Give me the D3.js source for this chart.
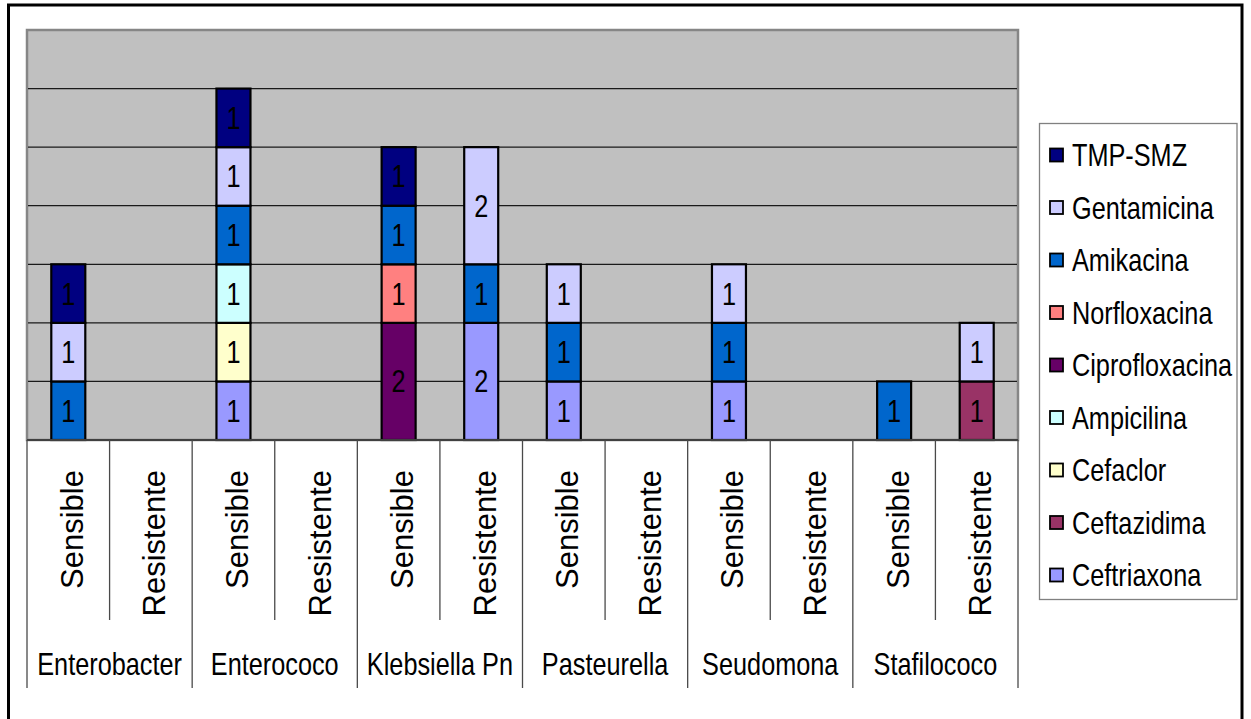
<!DOCTYPE html>
<html>
<head>
<meta charset="utf-8">
<script src="https://cdn.jsdelivr.net/npm/d3@7"></script>
<style>
  html, body { margin: 0; padding: 0; background: #ffffff; }
  svg { display: block; font-family: "Liberation Sans", Arial, sans-serif; }
</style>
</head>
<body>
<svg id="chart" width="1251" height="719"></svg>
<script>
// Bacteria groups and test outcome within each group
const groups = ["Enterobacter", "Enterococo", "Klebsiella Pn", "Pasteurella", "Seudomona", "Stafilococo"];
const outcomes = ["Sensible", "Resistente"];

// Antibiotics in stacking order (bottom to top)
const antibiotics = ["Ceftriaxona", "Ceftazidima", "Cefaclor", "Ampicilina", "Ciprofloxacina",
                     "Norfloxacina", "Amikacina", "Gentamicina", "TMP-SMZ"];
const colors = ["#9999FF", "#993366", "#FFFFCC", "#CCFFFF", "#660066",
                "#FF8080", "#0066CC", "#CCCCFF", "#000080"];

// Counts per slot: Enterobacter S/R, Enterococo S/R, Klebsiella S/R, Pasteurella S/R, Seudomona S/R, Stafilococo S/R
const ceftriaxona    = [0, 0, 1, 0, 0, 2, 1, 0, 1, 0, 0, 0];
const ceftazidima    = [0, 0, 0, 0, 0, 0, 0, 0, 0, 0, 0, 1];
const cefaclor       = [0, 0, 1, 0, 0, 0, 0, 0, 0, 0, 0, 0];
const ampicilina     = [0, 0, 1, 0, 0, 0, 0, 0, 0, 0, 0, 0];
const ciprofloxacina = [0, 0, 0, 0, 2, 0, 0, 0, 0, 0, 0, 0];
const norfloxacina   = [0, 0, 0, 0, 1, 0, 0, 0, 0, 0, 0, 0];
const amikacina      = [1, 0, 1, 0, 1, 1, 1, 0, 1, 0, 1, 0];
const gentamicina    = [1, 0, 1, 0, 0, 2, 1, 0, 1, 0, 0, 1];
const tmpSmz         = [1, 0, 1, 0, 1, 0, 0, 0, 0, 0, 0, 0];

const seriesValues = [ceftriaxona, ceftazidima, cefaclor, ampicilina, ciprofloxacina,
                      norfloxacina, amikacina, gentamicina, tmpSmz];
const yMax = 7;

// Build one row per slot for d3.stack
const slots = [];
groups.forEach((g, gi) => outcomes.forEach((o, oi) => {
  const row = { key: g + "|" + o, group: g, outcome: o };
  antibiotics.forEach((a, ai) => { row[a] = seriesValues[ai][gi * 2 + oi]; });
  slots.push(row);
}));

const svg = d3.select("#chart");
const plot = { left: 27, right: 1018, top: 30, bottom: 440 };

const x = d3.scaleBand().domain(slots.map(d => d.key)).range([plot.left, plot.right]).padding(0);
const y = d3.scaleLinear().domain([0, yMax]).range([plot.bottom, plot.top]);
const color = d3.scaleOrdinal().domain(antibiotics).range(colors);
const barW = 34;

// Outer frame
svg.append("rect")
  .attr("x", 8.5).attr("y", 5).attr("width", 1233.5).attr("height", 740)
  .attr("fill", "#ffffff").attr("stroke", "#000000").attr("stroke-width", 3);

// Plot area
svg.append("rect")
  .attr("x", plot.left).attr("y", plot.top)
  .attr("width", plot.right - plot.left).attr("height", plot.bottom - plot.top)
  .attr("fill", "#C0C0C0").attr("stroke", "#868686").attr("stroke-width", 2.5);

// Horizontal gridlines
svg.append("g")
  .selectAll("line")
  .data(d3.range(1, yMax))
  .join("line")
  .attr("x1", plot.left + 1).attr("x2", plot.right - 1)
  .attr("y1", d => y(d)).attr("y2", d => y(d))
  .attr("stroke", "#1a1a1a").attr("stroke-width", 1.3);

// Stacked bars
const stacked = d3.stack().keys(antibiotics)(slots);
const layers = svg.append("g").selectAll("g")
  .data(stacked)
  .join("g")
  .attr("fill", d => color(d.key));

layers.selectAll("rect")
  .data(d => d.filter(s => s[1] - s[0] > 0))
  .join("rect")
  .attr("x", d => x(d.data.key) + x.bandwidth() / 2 - barW / 2)
  .attr("y", d => y(d[1]))
  .attr("width", barW)
  .attr("height", d => y(d[0]) - y(d[1]))
  .attr("stroke", "#000000").attr("stroke-width", 2.2);

// Segment value labels
const labelG = svg.append("g");
stacked.forEach(layer => {
  layer.filter(s => s[1] - s[0] > 0).forEach(s => {
    const cx = x(s.data.key) + x.bandwidth() / 2;
    const cy = (y(s[0]) + y(s[1])) / 2 + 11;
    labelG.append("text")
      .attr("transform", `translate(${cx},${cy}) scale(0.79,1)`)
      .attr("text-anchor", "middle")
      .attr("font-size", 32)
      .attr("fill", "#000000")
      .text(s[1] - s[0]);
  });
});

// Category axis line
svg.append("line")
  .attr("x1", plot.left).attr("x2", plot.right)
  .attr("y1", plot.bottom).attr("y2", plot.bottom)
  .attr("stroke", "#404040").attr("stroke-width", 2);

// Tick dividers: short between outcomes, long between groups
const axisG = svg.append("g");
d3.range(0, slots.length + 1).forEach(i => {
  const xx = plot.left + i * x.bandwidth();
  const isGroup = i % 2 === 0;
  axisG.append("line")
    .attr("x1", xx).attr("x2", xx)
    .attr("y1", plot.bottom).attr("y2", isGroup ? 688 : 620)
    .attr("stroke", "#4a4a4a").attr("stroke-width", 1.3);
});

// Outcome labels, rotated
slots.forEach(d => {
  const cx = x(d.key) + x.bandwidth() / 2 + 14.5;
  axisG.append("text")
    .attr("transform", `translate(${cx},470) rotate(-90)`)
    .attr("text-anchor", "end")
    .attr("font-size", 31)
    .attr("fill", "#000000")
    .text(d.outcome);
});

// Group labels
groups.forEach((g, gi) => {
  const cx = plot.left + (gi * 2 + 1) * x.bandwidth();
  axisG.append("text")
    .attr("transform", `translate(${cx},675) scale(0.79,1)`)
    .attr("text-anchor", "middle")
    .attr("font-size", 32)
    .attr("fill", "#000000")
    .text(g);
});

// Legend (top series listed first)
const legend = svg.append("g");
legend.append("rect")
  .attr("x", 1039.5).attr("y", 123.5).attr("width", 1197.5 - 1000).attr("height", 476)
  .attr("fill", "#ffffff").attr("stroke", "#808080").attr("stroke-width", 1.3);

const legendItems = antibiotics.slice().reverse();
const legendY = d3.scalePoint().domain(legendItems).range([155, 575]);
legendItems.forEach(name => {
  const cy = legendY(name);
  legend.append("rect")
    .attr("x", 1050).attr("y", cy - 6.5).attr("width", 13).attr("height", 13)
    .attr("fill", color(name)).attr("stroke", "#000000").attr("stroke-width", 1.8);
  legend.append("text")
    .attr("transform", `translate(1072,${cy + 11}) scale(0.79,1)`)
    .attr("font-size", 32)
    .attr("fill", "#000000")
    .text(name);
});
</script>
</body>
</html>
